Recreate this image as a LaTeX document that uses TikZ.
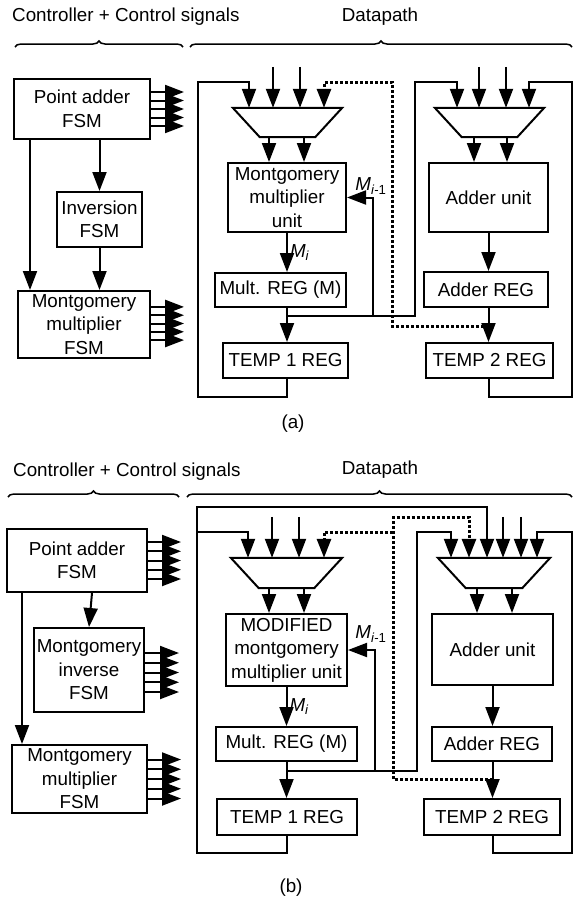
\documentclass[tikz,border=0pt]{standalone}
\usepackage{fontspec}
\setmainfont{Liberation Sans}
\usetikzlibrary{arrows.meta, decorations.pathreplacing, calc}
\newcommand{\dpfont}{\fontsize{18.8}{23.5}\selectfont}
\tikzset{
    blk/.style={rectangle, draw, line width=2pt, inner sep=0pt, align=center, font=\dpfont},
    mux/.style={rectangle, inner sep=0pt},
    muxline/.style={line width=2pt, line join=miter},
    arr/.style={-{Triangle[length=19pt, width=14pt]}, line width=2pt},
    dsh/.style={dash pattern=on 3pt off 2pt, line width=3pt},
    brc/.style={decorate, decoration={brace, amplitude=6pt}, line width=1.5pt},
    ttl/.style={font=\dpfont, inner sep=0pt},
    lbl/.style={font=\dpfont, inner sep=0pt}
}

\begin{document}
\begin{tikzpicture}[x=1pt, y=-1pt]
\useasboundingbox (0,0) rectangle (573,900);

\node[ttl, anchor=west] (ctlA) at (12,17) {Controller + Control signals};
\node[ttl] (dpA) at (380,17) {Datapath};
\draw[brc] (15,47) -- (183,47);
\draw[brc] (190,47) -- (572,47);

\node[blk, minimum width=136pt, minimum height=60pt] (padA) at (82,109) {Point adder\\FSM};
\node[blk, minimum width=85pt, minimum height=55pt] (invA) at (99.5,219.5) {Inversion\\FSM};
\node[blk, minimum width=132pt, minimum height=67pt] (mfsmA) at (84,324.5) {Montgomery\\multiplier\\FSM};
\draw[arr] (invA.north |- padA.south) -- (invA.north);
\draw[arr] (invA.south) -- (invA.south |- mfsmA.north);
\draw[arr] ([xshift=17pt]padA.south west) -- ([xshift=13pt]mfsmA.north west);
\foreach \k in {-2,...,2} {
    \draw[arr] ([yshift=\k*8.5pt]padA.east) -- ++(33,0);
    \draw[arr] ([yshift=\k*8.3pt+1pt]mfsmA.east) -- ++(33,0);
}

\node[mux, minimum width=109pt, minimum height=29pt] (muxA1) at (287.5,122.5) {};
\node[mux, minimum width=109pt, minimum height=29pt] (muxA2) at (489.5,122.5) {};
\node[blk, minimum width=118pt, minimum height=69pt] (mmuA) at (287,197.5) {Montgomery\\multiplier\\unit};
\node[blk, minimum width=131pt, minimum height=34pt] (mregA) at (280.5,290) {Mult. REG (M)};
\node[blk, minimum width=125pt, minimum height=35pt] (t1A) at (285.5,360.5) {TEMP 1 REG};
\node[blk, minimum width=119pt, minimum height=69pt] (addA) at (488.5,197.5) {Adder unit};
\node[blk, minimum width=124pt, minimum height=35pt] (aregA) at (486,289.5) {Adder REG};
\node[blk, minimum width=127pt, minimum height=35pt] (t2A) at (489.5,360.5) {TEMP 2 REG};
\coordinate (jA) at (287,316);
\coordinate (fbA) at (373,316);
\coordinate (jA2) at (488.5,326);

\foreach \m in {muxA1,muxA2}
    \draw[muxline] (\m.north west) -- (\m.north east) -- ([xshift=-27pt]\m.south east) -- ([xshift=27pt]\m.south west) -- cycle;
\foreach \dx in {-14.5,12.5} \draw[arr] ([xshift=\dx pt, yshift=41pt]muxA1.north) -- ([xshift=\dx pt]muxA1.north);
\foreach \dx in {-10.5,16.5} \draw[arr] ([xshift=\dx pt, yshift=41pt]muxA2.north) -- ([xshift=\dx pt]muxA2.north);
\foreach \dx in {-18.5,16.5} \draw[arr] ([xshift=\dx pt]muxA1.south) -- ([xshift=\dx pt]muxA1.south |- mmuA.north);
\foreach \dx in {-15.5,17.5} \draw[arr] ([xshift=\dx pt]muxA2.south) -- ([xshift=\dx pt]muxA2.south |- addA.north);
\draw[arr] (mmuA.south) -- (mmuA.south |- mregA.north) node[lbl, midway, right=2pt] {\textit{M}\textsubscript{\textit{i}}};
\draw[arr] (mmuA.south |- mregA.south) -- (mmuA.south |- t1A.north);
\draw[arr] (jA) -| (415,82) -| ([xshift=-32.5pt]muxA2.north);
\draw[arr] (fbA) |- (mmuA.east);
\node[lbl] (miA) at (371,186) {\textit{M}\textsubscript{\textit{i}-1}};
\draw[arr] (mmuA.south |- t1A.south) -- ++(0,18) -| (198,82) -| ([xshift=-38.5pt]muxA1.north);
\draw[arr] (addA.south) -- (addA.south |- aregA.north);
\draw[arr] (addA.south |- aregA.south) -- (addA.south |- t2A.north);
\draw[arr] (addA.south |- t2A.south) -- ++(0,18) -| (572,82) -| ([xshift=39.5pt]muxA2.north);
\draw[arr, dsh] (jA2) -| (392,82) -| ([xshift=36.5pt]muxA1.north);
\node[lbl] (capA) at (293,424) {(a)};

\node[ttl, anchor=west] (ctlB) at (13,472) {Controller + Control signals};
\node[ttl] (dpB) at (380,470) {Datapath};
\draw[brc] (8,497) -- (179,497);
\draw[brc] (187,497) -- (572,497);

\node[blk, minimum width=140pt, minimum height=63pt] (padB) at (77,560.5) {Point adder\\FSM};
\node[blk, minimum width=110pt, minimum height=84pt] (minvB) at (89,670) {Montgomery\\inverse\\FSM};
\node[blk, minimum width=135pt, minimum height=68pt] (mfsmB) at (79.5,779) {Montgomery\\multiplier\\FSM};
\draw[arr] ([xshift=15pt]padB.south) -- (minvB.north);
\draw[arr] ([xshift=16pt]padB.south west) -- ([xshift=11pt]mfsmB.north west);
\foreach \k in {-2,...,2} {
    \draw[arr] ([yshift=\k*9.25pt]padB.east) -- ++(33,0);
    \draw[arr] ([yshift=\k*9.75pt-2.5pt]minvB.east) -- ++(34,0);
    \draw[arr] ([yshift=\k*9.75pt]mfsmB.east) -- ++(33,0);
}

\node[mux, minimum width=111pt, minimum height=30pt] (muxB1) at (286.5,573) {};
\node[mux, minimum width=112pt, minimum height=30pt] (muxB2) at (494,573) {};
\node[blk, minimum width=121pt, minimum height=72pt] (modB) at (286.5,650) {MODIFIED\\montgomery\\multiplier unit};
\node[blk, minimum width=141pt, minimum height=34pt] (mregB) at (286.5,744) {Mult. REG (M)};
\node[blk, minimum width=140pt, minimum height=36pt] (t1B) at (287,817) {TEMP 1 REG};
\node[blk, minimum width=121pt, minimum height=71pt] (addB) at (492.5,649.5) {Adder unit};
\node[blk, minimum width=120pt, minimum height=34pt] (aregB) at (492,744) {Adder REG};
\node[blk, minimum width=136pt, minimum height=36pt] (t2B) at (492,817) {TEMP 2 REG};
\coordinate (jB) at (287,771);
\coordinate (fbB) at (375,771);
\coordinate (jB2) at (492.5,779);
\coordinate (lpB) at (196.5,532);
\coordinate (dsB) at (393,532);

\foreach \m in {muxB1,muxB2}
    \draw[muxline] (\m.north west) -- (\m.north east) -- ([xshift=-28pt]\m.south east) -- ([xshift=28pt]\m.south west) -- cycle;
\foreach \dx in {-14.5,12.5} \draw[arr] ([xshift=\dx pt, yshift=41pt]muxB1.north) -- ([xshift=\dx pt]muxB1.north);
\foreach \dx in {9,27} \draw[arr] ([xshift=\dx pt, yshift=41pt]muxB2.north) -- ([xshift=\dx pt]muxB2.north);
\foreach \dx in {-17.5,17.5} \draw[arr] ([xshift=\dx pt]muxB1.south) -- ([xshift=\dx pt]muxB1.south |- modB.north);
\foreach \dx in {-17,18} \draw[arr] ([xshift=\dx pt]muxB2.south) -- ([xshift=\dx pt]muxB2.south |- addB.north);
\draw[arr] (modB.south) -- (modB.south |- mregB.north) node[lbl, midway, right=2pt] {\textit{M}\textsubscript{\textit{i}}};
\draw[arr] (modB.south |- mregB.south) -- (modB.south |- t1B.north);
\draw[arr] (jB) -| (417,532) -| ([xshift=-43pt]muxB2.north);
\draw[arr] (fbB) |- (modB.east);
\node[lbl] (miB) at (371,634) {\textit{M}\textsubscript{\textit{i}-1}};
\draw[arr] (modB.south |- t1B.south) -- ++(0,17) -| (196.5,507) -| ([xshift=-7pt]muxB2.north);
\draw[arr] (lpB) -| ([xshift=-38.5pt]muxB1.north);
\draw[arr] (addB.south) -- (addB.south |- aregB.north);
\draw[arr] (addB.south |- aregB.south) -- (addB.south |- t2B.north);
\draw[arr] (addB.south |- t2B.south) -- ++(0,17) -| (572,532) -| ([xshift=43pt]muxB2.north);
\draw[arr, dsh] (jB2) -| (393,517) -| ([xshift=-25pt]muxB2.north);
\draw[arr, dsh] (dsB) -| ([xshift=37.5pt]muxB1.north);
\node[lbl] (capB) at (291,888) {(b)};
\end{tikzpicture}
\end{document}
